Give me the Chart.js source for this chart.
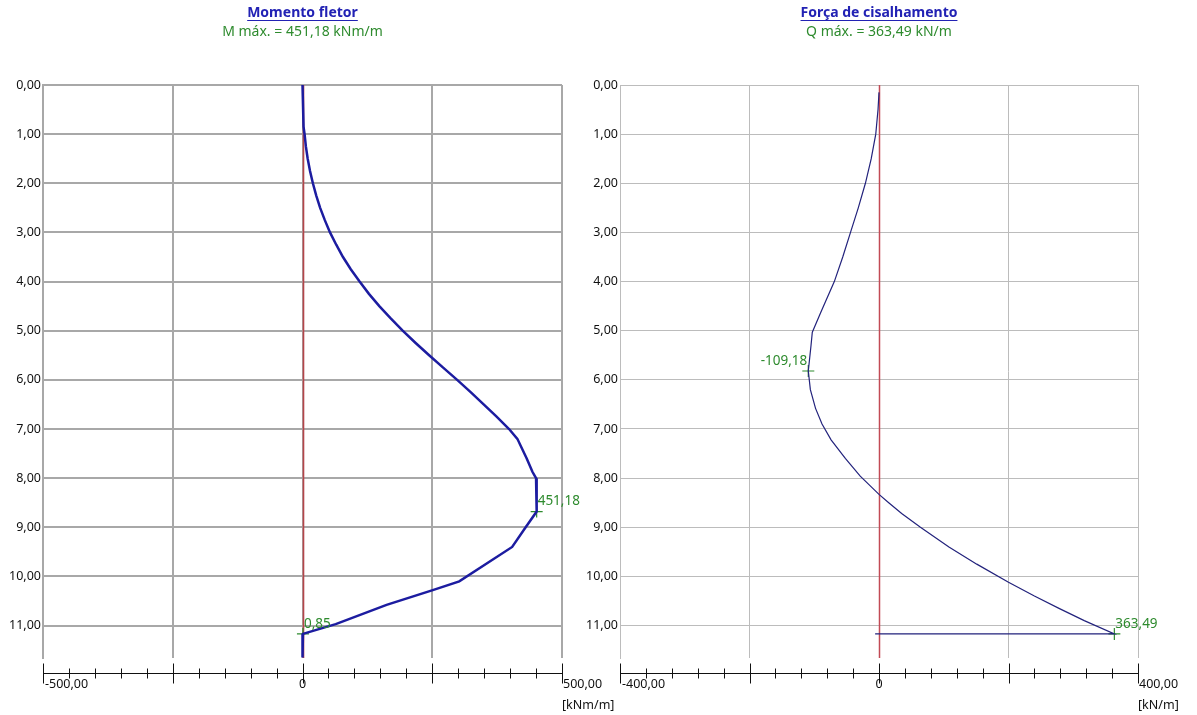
<!DOCTYPE html>
<html>
<head>
<meta charset="utf-8">
<script src="https://cdn.jsdelivr.net/npm/chart.js@4.4.1/dist/chart.umd.min.js"></script>
<style>
  html, body { margin: 0; background: #fff; }
  #wrap { position: relative; width: 1197px; height: 715px; overflow: hidden; }
  canvas { position: absolute; top: 0; }
  #momento { left: 0; }
  #cortante { left: 560px; }
</style>
</head>
<body>
<div id="wrap">
  <canvas id="momento" width="620" height="715"></canvas>
  <canvas id="cortante" width="637" height="715"></canvas>
</div>
<script>
// Momento fletor: profundidade (m) x momento (kNm/m)
const profM = [0, 0.85, 1.0, 1.25, 1.5, 1.75, 2.0, 2.25, 2.5, 2.75, 3.0, 3.25, 3.5, 3.75, 4.0, 4.25, 4.5, 4.75,
               5.0, 5.25, 5.5, 5.75, 6.0, 6.25, 6.5, 6.75, 7.0, 7.2, 7.6, 7.87, 8.0, 8.68, 9.0, 9.4, 10.1, 10.28,
               10.58, 10.97, 11.17, 11.65];
const valM  = [0, 2, 4, 6.5, 10, 14.5, 20, 26.5, 34, 43, 53, 65, 78, 93, 110, 128, 148, 170,
               193, 218, 244, 271, 298, 324, 349, 374, 398, 414, 432, 443, 450, 451.18, 430, 404, 302, 251,
               162, 64, 0.85, 0];

// Força de cisalhamento: profundidade (m) x cortante (kN/m)
const profQ = [0.15, 0.5, 1.0, 1.5, 2.0, 2.5, 3.0, 3.5, 4.0, 4.63, 5.03, 5.3, 5.82, 6.2, 6.58, 6.9, 7.22, 7.6, 7.96,
               8.33, 8.5, 8.72, 9.0, 9.4, 9.75, 10.12, 10.4, 10.65, 10.9, 11.17, 11.17];
const valQ  = [0, -1.5, -5, -12, -21, -32, -44, -56, -69, -90, -103, -105, -109.18, -106, -98, -88, -74, -52, -29,
               0, 15, 35, 64, 108, 151, 200, 240, 278, 317, 363.49, -6];

// valores destacados
const picoMProf = [8.68, 11.17];
const picoMVal  = [451.18, 0.85];
const picoQProf = [5.82, 11.17];
const picoQVal  = [-109.18, 363.49];

// eixo de profundidade
const profTicks = [0, 1, 2, 3, 4, 5, 6, 7, 8, 9, 10, 11];

// réguas inferiores
const reguaM = { min: -500, max: 500, passo: 250, sub: 50, rotulos: ['-500,00', '0', '500,00'], unidade: '[kNm/m]' };
const reguaQ = { min: -400, max: 400, passo: 200, sub: 40, rotulos: ['-400,00', '0', '400,00'], unidade: '[kN/m]' };

const FONTE = '"Noto Sans", "DejaVu Sans", sans-serif';
const fmt = v => v.toFixed(2).replace('.', ',');
const pares = (ys, xs) => ys.map((y, i) => ({ x: xs[i], y }));

const desenho = {
  id: 'desenho',
  beforeDatasetsDraw(chart, args, o) {
    const { ctx, chartArea: a, scales: { x } } = chart;
    const x0 = Math.round(x.getPixelForValue(0)) + 0.5;
    ctx.save();
    ctx.strokeStyle = o.corZero;
    ctx.lineWidth = o.larguraZero;
    ctx.beginPath();
    ctx.moveTo(x0, a.top);
    ctx.lineTo(x0, a.bottom);
    ctx.stroke();
    ctx.restore();
  },
  afterDraw(chart, args, o) {
    const { ctx, chartArea: a, scales: { x } } = chart;
    const cx = (a.left + a.right) / 2;
    ctx.save();

    // título sublinhado e valor máximo
    ctx.textAlign = 'center';
    ctx.textBaseline = 'alphabetic';
    ctx.font = 'bold 14px ' + FONTE;
    ctx.fillStyle = '#2222b4';
    ctx.fillText(o.titulo, cx, 17);
    const w = ctx.measureText(o.titulo).width;
    ctx.strokeStyle = '#2222b4';
    ctx.lineWidth = 1;
    ctx.beginPath();
    ctx.moveTo(cx - w / 2, 20.5);
    ctx.lineTo(cx + w / 2, 20.5);
    ctx.stroke();
    ctx.font = '14px ' + FONTE;
    ctx.fillStyle = '#2e8b2e';
    ctx.fillText(o.subtitulo, cx, 36);

    // régua inferior
    const r = o.regua;
    const yL = a.bottom + 15.5;
    ctx.strokeStyle = '#111';
    ctx.lineWidth = 1;
    ctx.beginPath();
    ctx.moveTo(x.getPixelForValue(r.min), yL);
    ctx.lineTo(x.getPixelForValue(r.max), yL);
    for (let v = r.min; v <= r.max + 1e-6; v += r.sub) {
      const px = Math.round(x.getPixelForValue(v)) + 0.5;
      const maior = Math.abs(v / r.passo - Math.round(v / r.passo)) < 1e-6;
      const h = maior ? 10 : 5;
      ctx.moveTo(px, yL - h);
      ctx.lineTo(px, yL + h);
    }
    ctx.stroke();

    ctx.font = '12.5px ' + FONTE;
    ctx.fillStyle = '#111';
    ctx.textBaseline = 'middle';
    ctx.textAlign = 'left';
    ctx.fillText(r.rotulos[0], x.getPixelForValue(r.min) + 2, yL + 11);
    ctx.textAlign = 'center';
    ctx.fillText(r.rotulos[1], x.getPixelForValue(0), yL + 11);
    ctx.textAlign = 'left';
    ctx.fillText(r.rotulos[2], x.getPixelForValue(r.max) + 1, yL + 11);
    ctx.fillText(r.unidade, x.getPixelForValue(r.max), yL + 32);

    // rótulos dos valores destacados
    const meta = chart.getDatasetMeta(1);
    ctx.font = '13.5px ' + FONTE;
    ctx.fillStyle = '#2e8b2e';
    meta.data.forEach((p, i) => {
      const v = chart.data.datasets[1].data[i].x;
      ctx.textAlign = v < 0 ? 'right' : 'left';
      ctx.fillText(fmt(v), v < 0 ? p.x - 1 : p.x + 1, p.y - 10);
    });
    ctx.restore();
  }
};

function diagrama(id, cfg) {
  return new Chart(document.getElementById(id), {
    type: 'scatter',
    data: {
      datasets: [
        {
          data: pares(cfg.prof, cfg.val),
          showLine: true,
          borderColor: cfg.corLinha,
          borderWidth: cfg.larguraLinha,
          pointRadius: 0,
          tension: 0
        },
        {
          data: pares(cfg.picoProf, cfg.picoVal),
          showLine: false,
          pointStyle: 'cross',
          pointRadius: 6,
          borderColor: '#2e8b2e',
          borderWidth: 1.2
        }
      ]
    },
    options: {
      responsive: false,
      animation: false,
      layout: { padding: { top: 85, bottom: 57, left: 0, right: cfg.padDir } },
      scales: {
        x: {
          type: 'linear',
          min: cfg.regua.min,
          max: cfg.regua.max,
          ticks: { display: false, stepSize: cfg.regua.passo },
          grid: { color: cfg.corGrade, lineWidth: cfg.larguraGrade, drawTicks: false },
          border: { display: false },
          afterFit: s => { s.height = 0; }
        },
        y: {
          type: 'linear',
          reverse: true,
          min: 0,
          max: 11.66,
          afterBuildTicks: s => { s.ticks = profTicks.map(v => ({ value: v })); },
          ticks: {
            padding: 2,
            color: '#111',
            font: { family: FONTE, size: 12.5 },
            callback: v => fmt(v)
          },
          grid: { color: cfg.corGrade, lineWidth: cfg.larguraGrade, drawTicks: false },
          border: { color: cfg.corGrade, width: cfg.larguraGrade },
          afterFit: s => { s.width = cfg.larguraEixo; }
        }
      },
      plugins: {
        legend: { display: false },
        tooltip: { enabled: false },
        desenho: {
          titulo: cfg.titulo,
          subtitulo: cfg.subtitulo,
          regua: cfg.regua,
          corZero: cfg.corZero,
          larguraZero: cfg.larguraZero
        }
      }
    },
    plugins: [desenho]
  });
}

diagrama('momento', {
  prof: profM, val: valM, picoProf: picoMProf, picoVal: picoMVal,
  regua: reguaM,
  titulo: 'Momento fletor',
  subtitulo: 'M máx. = 451,18 kNm/m',
  corLinha: '#1c1ca0', larguraLinha: 2.5,
  corGrade: '#a8a8a8', larguraGrade: 2,
  corZero: '#b5454a', larguraZero: 1.6,
  larguraEixo: 43, padDir: 58
});

diagrama('cortante', {
  prof: profQ, val: valQ, picoProf: picoQProf, picoVal: picoQVal,
  regua: reguaQ,
  titulo: 'Força de cisalhamento',
  subtitulo: 'Q máx. = 363,49 kN/m',
  corLinha: '#22227c', larguraLinha: 1.2,
  corGrade: '#bcbcbc', larguraGrade: 1,
  corZero: '#c24a55', larguraZero: 1.5,
  larguraEixo: 60, padDir: 59
});
</script>
</body>
</html>
